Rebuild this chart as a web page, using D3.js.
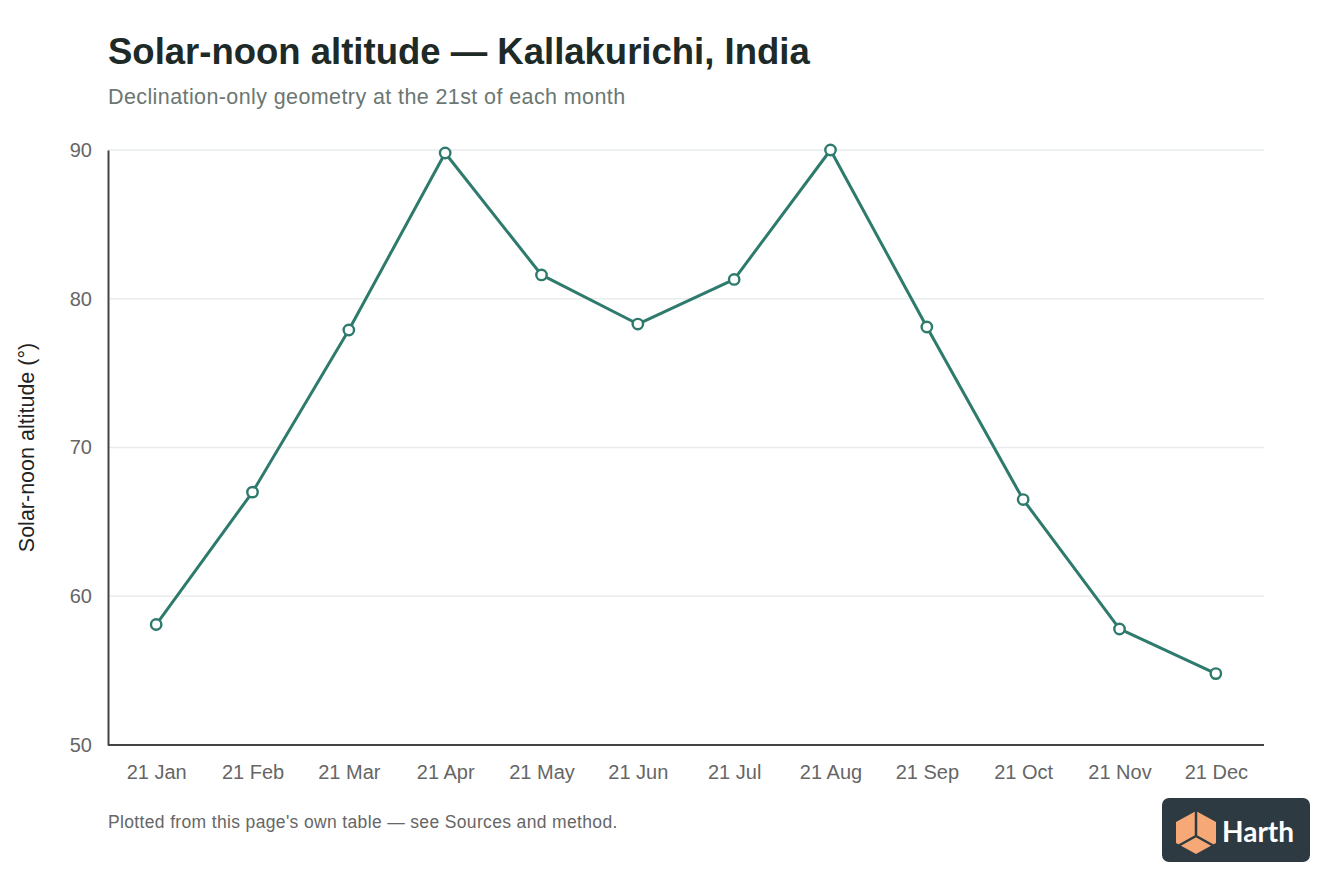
<!DOCTYPE html>
<html>
<head>
<meta charset="utf-8">
<script src="https://cdn.jsdelivr.net/npm/d3@7"></script>
<style>
  html, body { margin: 0; padding: 0; background: #fff; }
  body { font-family: "Liberation Sans", Arial, Helvetica, sans-serif; }
</style>
</head>
<body>
<div id="chart"></div>
<script>
// solar-noon altitude at the 21st of each month (degrees)
const months = ["21 Jan", "21 Feb", "21 Mar", "21 Apr", "21 May", "21 Jun",
                "21 Jul", "21 Aug", "21 Sep", "21 Oct", "21 Nov", "21 Dec"];
const altitude = [58.1, 67.0, 77.9, 89.8, 81.6, 78.3, 81.3, 90.0, 78.1, 66.5, 57.8, 54.8];
const yTicks = [50, 60, 70, 80, 90];

const width = 1344;
const height = 896;
const marginTop = 150;
const marginRight = 80;
const marginBottom = 151;
const marginLeft = 108;

const svg = d3.select("#chart").append("svg")
    .attr("width", width)
    .attr("height", height)
    .attr("viewBox", [0, 0, width, height]);

const x = d3.scalePoint()
    .domain(months)
    .range([marginLeft, width - marginRight])
    .padding(0.5);

const y = d3.scaleLinear()
    .domain([50, 90])
    .range([height - marginBottom, marginTop]);

// titles
svg.append("text")
    .attr("x", 108).attr("y", 64)
    .attr("font-size", 36.5).attr("font-weight", 700)
    .attr("fill", "#1d2a27")
    .text("Solar-noon altitude \u2014 Kallakurichi, India");

svg.append("text")
    .attr("x", 108).attr("y", 104)
    .attr("font-size", 21.5)
    .attr("letter-spacing", 0.4)
    .attr("fill", "#6b7772")
    .text("Declination-only geometry at the 21st of each month");

// gridlines
svg.append("g")
    .selectAll("line")
    .data(yTicks.filter(d => d > 50))
    .join("line")
    .attr("x1", marginLeft).attr("x2", width - marginRight)
    .attr("y1", d => y(d)).attr("y2", d => y(d))
    .attr("stroke", "#e9ecec")
    .attr("stroke-width", 1.5);

// axes
svg.append("g")
    .attr("transform", `translate(${marginLeft},0)`)
    .call(d3.axisLeft(y).tickValues(yTicks).tickSize(0).tickPadding(16))
    .call(g => g.select(".domain").attr("stroke", "#444").attr("stroke-width", 2))
    .call(g => g.selectAll("text").attr("font-size", 20).attr("fill", "#666")
        .attr("font-family", "Liberation Sans, Arial, sans-serif"));

svg.append("g")
    .attr("transform", `translate(0,${height - marginBottom})`)
    .call(d3.axisBottom(x).tickSize(0).tickPadding(20))
    .call(g => g.select(".domain").attr("stroke", "#444").attr("stroke-width", 2)
        .attr("d", `M${marginLeft},0H${width - marginRight}`))
    .call(g => g.selectAll("text").attr("font-size", 20).attr("fill", "#666")
        .attr("font-family", "Liberation Sans, Arial, sans-serif"));

svg.append("text")
    .attr("transform", `translate(34,${(marginTop + height - marginBottom) / 2}) rotate(-90)`)
    .attr("text-anchor", "middle")
    .attr("font-size", 21.5)
    .attr("fill", "#222")
    .text("Solar-noon altitude (\u00b0)");

// line and markers
const line = d3.line()
    .x((d, i) => x(months[i]))
    .y(d => y(d));

svg.append("path")
    .datum(altitude)
    .attr("fill", "none")
    .attr("stroke", "#2e7a6d")
    .attr("stroke-width", 3)
    .attr("stroke-linejoin", "round")
    .attr("d", line);

svg.append("g")
    .selectAll("circle")
    .data(altitude)
    .join("circle")
    .attr("cx", (d, i) => x(months[i]))
    .attr("cy", d => y(d))
    .attr("r", 5.2)
    .attr("fill", "#fff")
    .attr("stroke", "#2e7a6d")
    .attr("stroke-width", 2.4);

// footer
svg.append("text")
    .attr("x", 108).attr("y", 828)
    .attr("font-size", 17.5)
    .attr("letter-spacing", 0.35)
    .attr("fill", "#666")
    .text("Plotted from this page's own table \u2014 see Sources and method.");

// logo badge
const logo = svg.append("g").attr("transform", "translate(1162,798)");
logo.append("rect")
    .attr("width", 148).attr("height", 64).attr("rx", 7)
    .attr("fill", "#2d3a41");
logo.append("path")
    .attr("d", "M34,13 L54,24 L54,45 L34,56 L14,45 L14,24 Z")
    .attr("fill", "#f6a877");
logo.append("path")
    .attr("d", "M34,13 L34,38 M34,38 L16,48 M34,38 L52,48")
    .attr("fill", "none")
    .attr("stroke", "#2d3a41")
    .attr("stroke-width", 2.5);
logo.append("text")
    .attr("x", 60).attr("y", 44)
    .attr("font-size", 28).attr("font-weight", 700)
    .attr("fill", "#fff")
    .attr("font-family", "Lato, 'Open Sans', sans-serif")
    .text("Harth");
</script>
</body>
</html>
